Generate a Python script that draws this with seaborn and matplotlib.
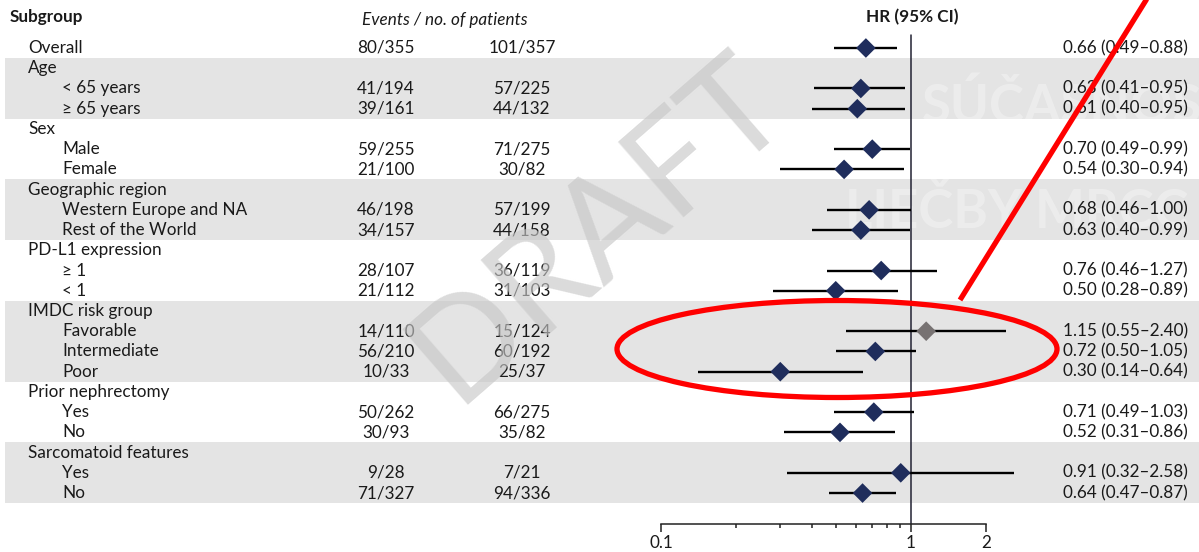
import numpy as np
import pandas as pd
import matplotlib
matplotlib.use("Agg")
import matplotlib.pyplot as plt
import seaborn as sns
from matplotlib.patches import Ellipse
from matplotlib.ticker import FixedLocator, NullFormatter

# ---- table content -------------------------------------------------------
labels = ["Overall", "Age", "< 65 years", "≥ 65 years", "Sex", "Male", "Female",
          "Geographic region", "Western Europe and NA", "Rest of the World",
          "PD-L1 expression", "≥ 1", "< 1", "IMDC risk group", "Favorable",
          "Intermediate", "Poor", "Prior nephrectomy", "Yes", "No",
          "Sarcomatoid features", "Yes", "No"]
indent = [0, 0, 1, 1, 0, 1, 1, 0, 1, 1, 0, 1, 1, 0, 1, 1, 1, 0, 1, 1, 0, 1, 1]

events_arm1 = ["80/355", "", "41/194", "39/161", "", "59/255", "21/100", "",
               "46/198", "34/157", "", "28/107", "21/112", "", "14/110",
               "56/210", "10/33", "", "50/262", "30/93", "", "9/28", "71/327"]
events_arm2 = ["101/357", "", "57/225", "44/132", "", "71/275", "30/82", "",
               "57/199", "44/158", "", "36/119", "31/103", "", "15/124",
               "60/192", "25/37", "", "66/275", "35/82", "", "7/21", "94/336"]

nan = np.nan
hr = [0.66, nan, 0.63, 0.61, nan, 0.70, 0.54, nan, 0.68, 0.63, nan, 0.76, 0.50,
      nan, 1.15, 0.72, 0.30, nan, 0.71, 0.52, nan, 0.91, 0.64]
ci_low = [0.49, nan, 0.41, 0.40, nan, 0.49, 0.30, nan, 0.46, 0.40, nan, 0.46,
          0.28, nan, 0.55, 0.50, 0.14, nan, 0.49, 0.31, nan, 0.32, 0.47]
ci_high = [0.88, nan, 0.95, 0.95, nan, 0.99, 0.94, nan, 1.00, 0.99, nan, 1.27,
           0.89, nan, 2.40, 1.05, 0.64, nan, 1.03, 0.86, nan, 2.58, 0.87]

shaded_groups = [(1, 3), (7, 9), (13, 16), (20, 22)]

x_ticks_major = [0.1, 1, 2]
x_ticks_minor = [0.2, 0.3, 0.4, 0.5, 0.6, 0.7, 0.8, 0.9]

df = pd.DataFrame({"label": labels, "indent": indent, "hr": hr,
                   "lo": ci_low, "hi": ci_high})
df["row"] = np.arange(len(df))
df["favours"] = np.where(df["hr"] > 1, "above", "below")

# ---- styling -------------------------------------------------------------
sns.set_theme(style="white")
plt.rcParams["font.family"] = ["Lato", "DejaVu Sans"]
TXT = "#1a1a1a"
FS = 12.3
NAVY = "#1f2d5c"
GREY_MK = "#777272"
BAND = "#e4e4e4"

W, H = 1199, 552
fig = plt.figure(figsize=(W / 100, H / 100), dpi=100)

# row index <-> pixel layout
ROW0, ROWH = 48.0, 20.23
def row_of(px):
    return (px - ROW0) / ROWH

# background table axes (x in pixel units, y in rows)
tab = fig.add_axes([0, 0, 1, 1], zorder=0)
tab.set_xlim(0, W)
tab.set_ylim(row_of(H), row_of(0))
tab.axis("off")

for a, b in shaded_groups:
    tab.fill_between([5, W], a - 0.5, b + 0.5, color=BAND, lw=0, zorder=0)

# faint background lettering, running off the right edge
for txt, xpx, ypx in [("SÚČASNOSŤ", 922, 107), ("LIEČBY MRCC", 845, 213)]:
    t = tab.text(xpx, row_of(ypx), txt, fontsize=38, fontweight="bold",
                 color="white", alpha=0.32, va="center", ha="left", zorder=1)
    t.set_clip_on(True)

tab.text(10, row_of(17), "Subgroup", fontsize=FS, fontweight="bold",
         color=TXT, va="center", ha="left")
tab.text(445, row_of(20), "Events / no. of patients", fontsize=FS,
         style="italic", color=TXT, va="center", ha="center")
tab.text(912, row_of(17), "HR (95% CI)", fontsize=FS, fontweight="bold",
         color=TXT, va="center", ha="center")

for r, (lab, ind, e1, e2) in enumerate(zip(labels, indent, events_arm1, events_arm2)):
    tab.text(28 if ind == 0 else 62, r, lab, fontsize=FS, color=TXT,
             va="center", ha="left", zorder=2)
    if e1:
        tab.text(386, r, e1, fontsize=FS, color=TXT, va="center", ha="center", zorder=2)
    if e2:
        tab.text(522, r, e2, fontsize=FS, color=TXT, va="center", ha="center", zorder=2)

for _, d in df.dropna(subset=["hr"]).iterrows():
    tab.text(1188, d["row"], f"{d['hr']:.2f} ({d['lo']:.2f}–{d['hi']:.2f})",
             fontsize=FS, color=TXT, va="center", ha="right", zorder=2)

# ---- forest axes (log HR scale) -----------------------------------------
PX_ONE, PX_DEC = 911.0, 250.0
left_px, right_px, top_px, bot_px = 560, 1060, 30, 524
ax = fig.add_axes([left_px / W, (H - bot_px) / H, (right_px - left_px) / W,
                   (bot_px - top_px) / H], zorder=2)
ax.patch.set_alpha(0)
ax.set_xscale("log")
ax.set_xlim(10 ** ((left_px - PX_ONE) / PX_DEC), 10 ** ((right_px - PX_ONE) / PX_DEC))
ax.set_ylim(row_of(bot_px), row_of(top_px))

pts = df.dropna(subset=["hr"])
ax.hlines(pts["row"], pts["lo"], pts["hi"], color="black", lw=1.7, zorder=2)
ax.plot([1, 1], [row_of(35), row_of(bot_px)], color="#222233", lw=1.1, zorder=1)
sns.scatterplot(data=pts, x="hr", y="row", hue="favours", marker="D", s=100,
                palette={"below": NAVY, "above": GREY_MK}, edgecolor="none",
                legend=False, ax=ax, zorder=3)

for side in ("top", "right", "left"):
    ax.spines[side].set_visible(False)
ax.spines["bottom"].set_bounds(0.1, 2)
ax.spines["bottom"].set_color("#222222")
ax.spines["bottom"].set_linewidth(1.1)
ax.xaxis.set_major_locator(FixedLocator(x_ticks_major))
ax.xaxis.set_minor_locator(FixedLocator(x_ticks_minor))
ax.xaxis.set_minor_formatter(NullFormatter())
ax.set_xticklabels([f"{t:g}" for t in x_ticks_major])
ax.tick_params(axis="x", which="major", direction="out", length=6, width=1.1,
               color="#222222", labelsize=FS, labelcolor=TXT, pad=2, bottom=True)
ax.tick_params(axis="x", which="minor", direction="out", length=3, width=1.1,
               color="#222222", bottom=True)
ax.set_yticks([])
ax.set_xlabel("")
ax.set_ylabel("")

# ---- overlay: watermark and annotation marks -----------------------------
top = fig.add_axes([0, 0, 1, 1], zorder=3)
top.set_xlim(0, W)
top.set_ylim(H, 0)
top.axis("off")
top.patch.set_alpha(0)
top.text(598, 228, "DRAFT", fontsize=100, rotation=41, color=(0.78, 0.78, 0.78),
         alpha=0.64, ha="center", va="center", rotation_mode="anchor")
top.add_patch(Ellipse((837, 349), 440, 97, fill=False, ec="#ff0000", lw=3.8))
top.plot([960, 1148], [300, -3], color="#ff0000", lw=3.8, solid_capstyle="butt")

fig.savefig("out.png", dpi=100)
